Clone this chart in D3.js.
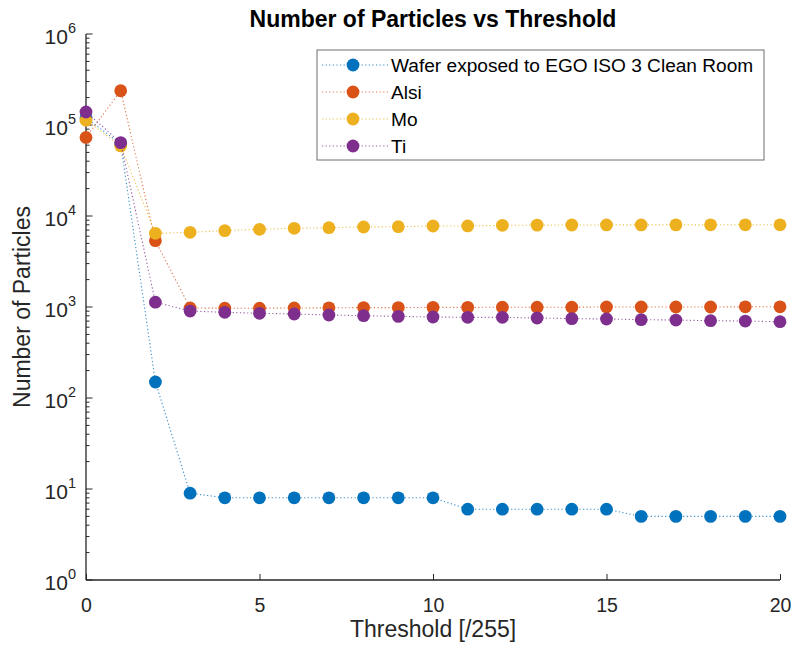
<!DOCTYPE html>
<html>
<head>
<meta charset="utf-8">
<script src="https://cdn.jsdelivr.net/npm/d3@7"></script>
<style>
  body { margin: 0; background: #fff; }
  svg text { font-family: "Liberation Sans", Arial, Helvetica, sans-serif; }
</style>
</head>
<body>
<svg id="chart" width="794" height="649"></svg>
<script>
// Threshold values (x) and particle counts per sample
const thresholds = d3.range(0, 21);
const seriesNames = ["Wafer exposed to EGO ISO 3 Clean Room", "Alsi", "Mo", "Ti"];
const waferCounts = [120000, 62000, 150, 9, 8, 8, 8, 8, 8, 8, 8, 6, 6, 6, 6, 6, 5, 5, 5, 5, 5];
const alsiCounts = [73000, 238000, 5350, 975, 970, 970, 975, 980, 985, 985, 990, 990, 995, 995, 995, 1000, 1000, 1000, 1000, 1005, 1005];
const moCounts = [113000, 59000, 6450, 6620, 6900, 7140, 7320, 7440, 7570, 7630, 7760, 7780, 7900, 7940, 7960, 7980, 7980, 7990, 8000, 8000, 8000];
const tiCounts = [139000, 64000, 1130, 903, 874, 852, 838, 817, 803, 789, 776, 770, 770, 757, 745, 738, 726, 719, 707, 701, 689];
const seriesColors = ["#0072BD", "#D95319", "#EDB120", "#7E2F8E"];
const xTicks = [0, 5, 10, 15, 20];
const yDecades = [0, 1, 2, 3, 4, 5, 6];

const svg = d3.select("#chart");
const plot = { left: 86, right: 780, top: 34, bottom: 580 };

const x = d3.scaleLinear().domain([0, 20]).range([plot.left, plot.right]);
const y = d3.scaleLog().domain([1, 1e6]).range([plot.bottom, plot.top]);

const axisColor = "#262626";

// Bottom axis: inward ticks
const xAxis = svg.append("g").attr("transform", `translate(0,${plot.bottom})`)
  .call(d3.axisBottom(x).tickValues(xTicks).tickSize(-6).tickPadding(18).tickFormat(d3.format("d")));
xAxis.select(".domain").attr("stroke", axisColor).attr("stroke-width", 1.3).attr("d", `M${plot.left},0H${plot.right}`);
xAxis.selectAll(".tick line").attr("stroke", axisColor);
xAxis.selectAll(".tick text").attr("fill", axisColor).attr("font-size", 19.5).attr("dy", "0.71em");

// Left axis: log scale with minor ticks, inward
const yAxis = svg.append("g").attr("transform", `translate(${plot.left},0)`);
yAxis.append("path").attr("d", `M0,${plot.bottom}V${plot.top}`).attr("stroke", axisColor).attr("stroke-width", 1.3).attr("fill", "none");
const minorVals = [];
for (let e = 0; e < 6; e++) for (let m = 2; m <= 9; m++) minorVals.push(m * Math.pow(10, e));
yAxis.selectAll(".minor").data(minorVals).join("line")
  .attr("x1", 0).attr("x2", 3.5).attr("y1", d => y(d)).attr("y2", d => y(d))
  .attr("stroke", axisColor).attr("stroke-width", 1);
yAxis.selectAll(".major").data(yDecades).join("line")
  .attr("x1", 0).attr("x2", 6.5).attr("y1", d => y(Math.pow(10, d))).attr("y2", d => y(Math.pow(10, d)))
  .attr("stroke", axisColor).attr("stroke-width", 1);
const yLabels = yAxis.selectAll(".ylab").data(yDecades).join("text")
  .attr("x", -10).attr("y", d => y(Math.pow(10, d)) + 10)
  .attr("text-anchor", "end").attr("fill", axisColor).attr("font-size", 21);
yLabels.append("tspan").text("10");
yLabels.append("tspan").attr("dy", -11).attr("font-size", 14.5).text(d => d);

// Series: dotted connecting lines and filled circle markers
const allSeries = [waferCounts, alsiCounts, moCounts, tiCounts];
const line = d3.line().x((d, i) => x(thresholds[i])).y(d => y(d));
allSeries.forEach((vals, s) => {
  const g = svg.append("g");
  g.append("path").attr("d", line(vals)).attr("fill", "none")
    .attr("stroke", seriesColors[s]).attr("stroke-width", 1.1).attr("stroke-dasharray", "1.2,2.4").attr("opacity", 0.8);
  g.selectAll("circle").data(vals).join("circle")
    .attr("cx", (d, i) => x(thresholds[i])).attr("cy", d => y(d)).attr("r", 6.4)
    .attr("fill", seriesColors[s]);
});

// Title and axis labels
svg.append("text").attr("x", (plot.left + plot.right) / 2).attr("y", 27)
  .attr("text-anchor", "middle").attr("font-weight", "bold").attr("font-size", 23).attr("fill", "#000")
  .text("Number of Particles vs Threshold");
svg.append("text").attr("x", (plot.left + plot.right) / 2).attr("y", 637)
  .attr("text-anchor", "middle").attr("font-size", 23).attr("fill", axisColor)
  .text("Threshold [/255]");
svg.append("text").attr("transform", `translate(30,${(plot.top + plot.bottom) / 2}) rotate(-90)`)
  .attr("text-anchor", "middle").attr("font-size", 23).attr("fill", axisColor)
  .text("Number of Particles");

// Legend
const legend = svg.append("g");
legend.append("rect").attr("x", 317).attr("y", 50).attr("width", 447).attr("height", 110)
  .attr("fill", "#fff").attr("stroke", "#6e6e6e").attr("stroke-width", 1);
seriesNames.forEach((name, i) => {
  const ly = 65 + i * 27;
  legend.append("line").attr("x1", 322).attr("x2", 388).attr("y1", ly).attr("y2", ly)
    .attr("stroke", seriesColors[i]).attr("stroke-width", 1).attr("stroke-dasharray", "1.2,2.4").attr("opacity", 0.8);
  legend.append("circle").attr("cx", 353).attr("cy", ly).attr("r", 6.4).attr("fill", seriesColors[i]);
  legend.append("text").attr("x", 391).attr("y", ly + 7).attr("font-size", 19.1).attr("fill", "#000").text(name);
});
</script>
</body>
</html>
